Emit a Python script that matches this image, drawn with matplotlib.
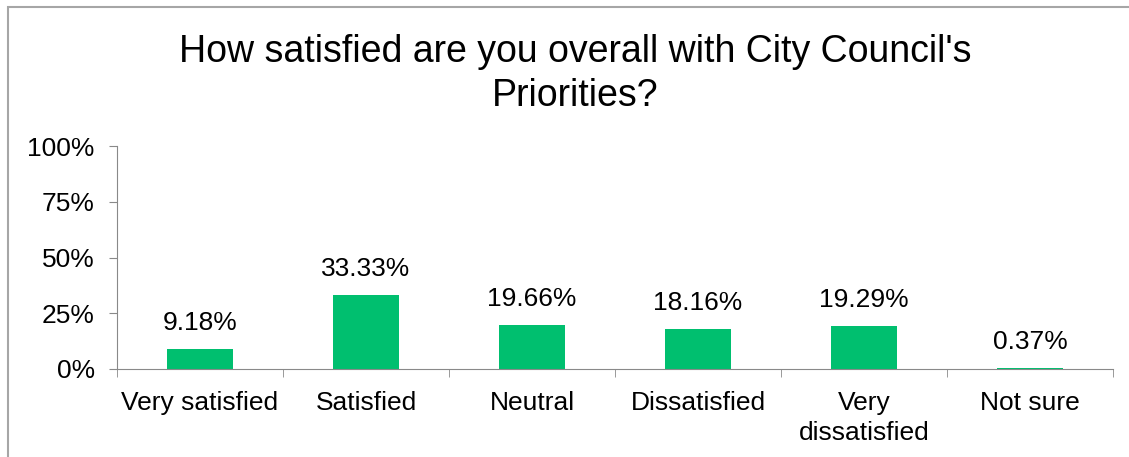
import numpy as np
import matplotlib.pyplot as plt
from matplotlib.patches import Rectangle

plt.rcParams['font.family'] = ['Liberation Sans', 'DejaVu Sans']

categories = ['Very satisfied', 'Satisfied', 'Neutral', 'Dissatisfied',
              'Very\ndissatisfied', 'Not sure']
values = [9.18, 33.33, 19.66, 18.16, 19.29, 0.37]
yticks = [0, 25, 50, 75, 100]

W, H = 1129, 457
fig = plt.figure(figsize=(W / 100, H / 100), dpi=100)

# outer chart border
fig.patches.append(Rectangle((8 / W, -0.01), 1.2, 1 - 7 / H + 0.01,
                             transform=fig.transFigure, fill=False,
                             edgecolor='#a6a6a6', linewidth=1.5))

ax = fig.add_axes([117 / W, 1 - 369 / H, (1113 - 117) / W, (369 - 146) / H])

x = np.arange(len(categories))
ax.bar(x, values, width=0.4, color='#00bf6f', zorder=2)
for xi, v in zip(x, values):
    ax.annotate(f'{v:.2f}%', (xi, v), xytext=(0, 10), textcoords='offset points',
                ha='center', va='bottom', fontsize=19)

ax.set_xlim(-0.5, len(categories) - 0.5)
ax.set_ylim(0, 100)
ax.set_yticks(yticks)
ax.set_yticklabels([f'{t}%' for t in yticks], fontsize=19)
ax.set_xticks(x)
ax.set_xticklabels(categories, fontsize=19, linespacing=1.3)
ax.set_xticks(np.arange(-0.5, len(categories)), minor=True)
ax.tick_params(axis='x', which='major', length=0, pad=16)
ax.tick_params(axis='x', which='minor', length=6, color='#898989')
ax.tick_params(axis='y', length=6, color='#898989', pad=10)

for s in ['top', 'right']:
    ax.spines[s].set_visible(False)
for s in ['left', 'bottom']:
    ax.spines[s].set_color('#898989')

fig.text(575 / W, 1 - 74 / H, "How satisfied are you overall with City Council's\nPriorities?",
         ha='center', va='center', fontsize=27, linespacing=1.3)

fig.savefig('out.png', dpi=100)
